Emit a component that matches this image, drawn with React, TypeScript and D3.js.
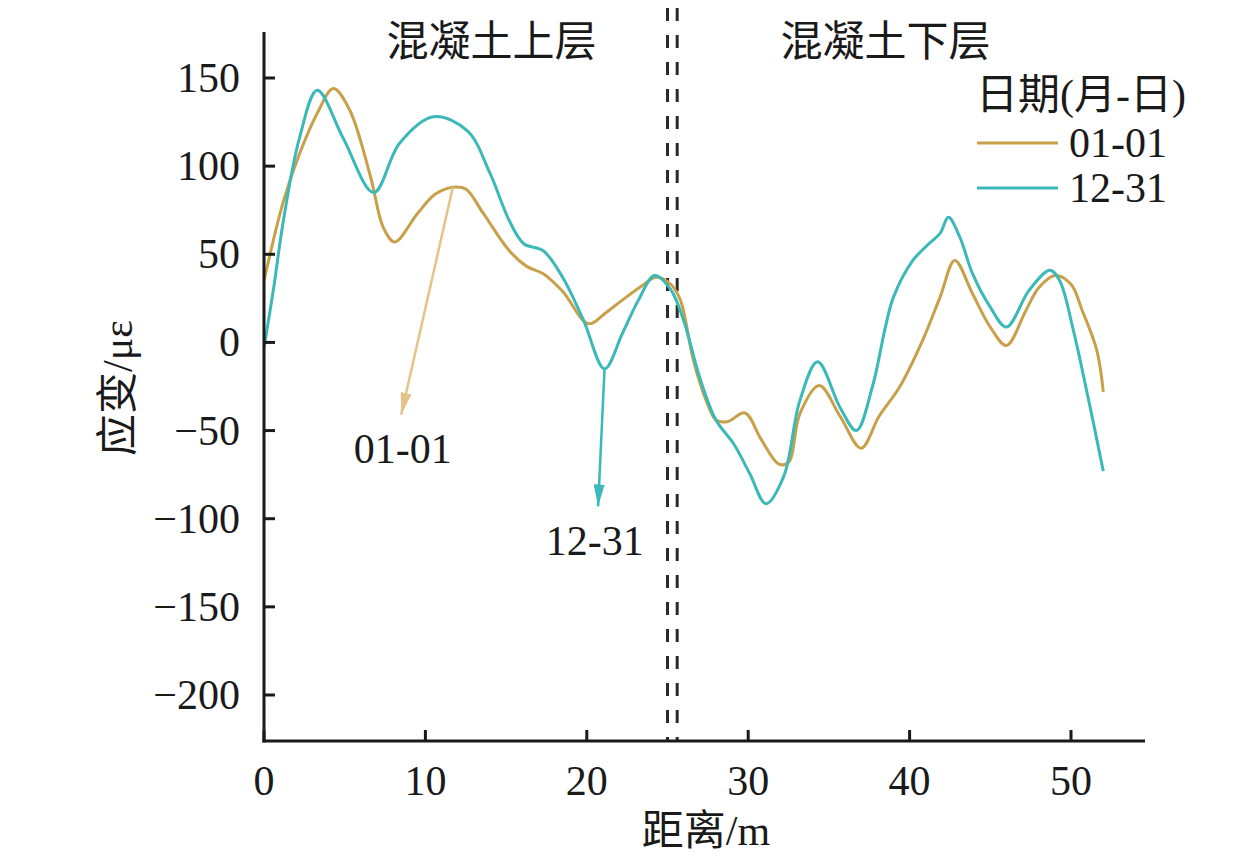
import { useEffect, useRef } from "react";
import * as d3 from "d3";

// 01-01 series (distance m, strain με)
const dist0101 = [0, 1.2, 2.2, 3.3, 4.3, 5.3, 6.6, 7.4, 8.1, 9.5, 10.6, 11.7, 12.5, 13.6, 15.2, 16.3, 17.3, 18.5, 20.1, 21.2, 22.2, 23.4, 24.3, 25.2, 25.8, 26.6, 27.4, 28.0, 28.7, 29.8, 30.8, 31.9, 32.5, 33.2, 34.4, 35.7, 37.0, 38.1, 39.4, 40.8, 41.9, 42.8, 43.9, 45.0, 46.0, 47.2, 48.0, 49.0, 50.0, 50.7, 51.6, 52.0];
const strain0101 = [35, 80, 107, 130, 144, 132, 94, 65, 57, 73, 84, 88, 87, 73, 52, 43, 39, 29, 10.6, 17, 24, 32, 37, 33, 24, -10, -33, -44, -45, -40, -55, -69, -68, -40.5, -24.5, -42, -60, -42, -25, 1, 26, 46.5, 27.6, 8.7, -1.7, 18, 31, 38, 33, 18, -4.5, -28];

// 12-31 series
const dist1231 = [0, 0.6, 1.2, 2.2, 3.3, 4.9, 6.8, 8.4, 10.5, 12.6, 14.0, 15.2, 16.1, 17.3, 18.5, 19.8, 21.1, 22.2, 23.2, 24.2, 25.2, 26.0, 27.0, 28.0, 29.1, 30.1, 31.1, 32.2, 33.2, 34.3, 35.7, 36.7, 37.7, 38.5, 39.0, 40.2, 41.2, 41.9, 42.4, 43.1, 43.9, 45.0, 46.0, 47.4, 48.7, 49.3, 50.1, 51.1, 52.0];
const strain1231 = [-3, 31, 69, 116, 143, 116, 85, 113, 128, 120, 96, 69, 56, 52, 37, 12.5, -15, 5, 24, 38, 30, 12.5, -20, -44, -57.5, -74.5, -91.5, -76, -33, -11, -37, -50, -25, 8.7, 25.7, 46.5, 56, 62, 71, 60, 39, 20, 8.7, 29.5, 41, 35, 8.7, -33, -73];

const xTicks = [0, 10, 20, 30, 40, 50];
const yTicks = [150, 100, 50, 0, -50, -100, -150, -200];
const dividers = [25.0, 25.6];
const sectionTitles = ["混凝土上层", "混凝土下层"];
const sectionCenters = [14.1, 38.5];
const seriesNames = ["01-01", "12-31"];
const colors = ["#c9a04a", "#3bb9b8"];
const arrowColors = ["#e6c287", "#3bb9b8"];
// annotation: from (x,y) on curve to arrow tip, label position
const annoFrom = [[11.7, 88], [21.1, -15]];
const annoTo = [[8.5, -41], [20.7, -93]];
const annoLabel = [[8.6, -63], [20.5, -115]];

const FONT = "'Liberation Serif', 'Times New Roman', 'Noto Sans CJK SC', serif";

export default function App() {
  const svgRef = useRef<SVGSVGElement>(null);

  useEffect(() => {
    if (!svgRef.current) return;
    const svg = d3.select(svgRef.current);
    svg.selectAll("*").remove();

    const x = d3.scaleLinear().domain([0, 50]).range([264, 1071]);
    const y = d3.scaleLinear().domain([150, -200]).range([78, 695]);
    const xMax = x.invert(1145);
    const yTop = y.invert(32);
    const yBot = y.invert(741);

    const defs = svg.append("defs");
    arrowColors.forEach((c, i) => {
      defs
        .append("marker")
        .attr("id", `arr${i}`)
        .attr("viewBox", "0 0 20 10")
        .attr("refX", 20)
        .attr("refY", 5)
        .attr("markerWidth", 22)
        .attr("markerHeight", 11)
        .attr("markerUnits", "userSpaceOnUse")
        .attr("orient", "auto")
        .append("path")
        .attr("d", "M0,0 L20,5 L0,10 Z")
        .attr("fill", c);
    });

    // divider dashed lines
    dividers.forEach((d) => {
      svg
        .append("line")
        .attr("x1", x(d))
        .attr("x2", x(d))
        .attr("y1", 8)
        .attr("y2", y(yBot))
        .attr("stroke", "#2a2a2a")
        .attr("stroke-width", 3)
        .attr("stroke-dasharray", "13,14");
    });

    // curves
    const series = [
      dist0101.map((d, i) => [d, strain0101[i]] as [number, number]),
      dist1231.map((d, i) => [d, strain1231[i]] as [number, number]),
    ];
    const line = d3
      .line<[number, number]>()
      .x((d) => x(d[0]))
      .y((d) => y(d[1]))
      .curve(d3.curveCatmullRom.alpha(0.5));
    series.forEach((s, i) => {
      svg
        .append("path")
        .datum(s)
        .attr("fill", "none")
        .attr("stroke", colors[i])
        .attr("stroke-width", 3)
        .attr("d", line);
    });

    // annotations
    annoFrom.forEach((f, i) => {
      svg
        .append("line")
        .attr("x1", x(f[0]))
        .attr("y1", y(f[1]))
        .attr("x2", x(annoTo[i][0]))
        .attr("y2", y(annoTo[i][1]))
        .attr("stroke", arrowColors[i])
        .attr("stroke-width", 2.5)
        .attr("marker-end", `url(#arr${i})`);
      svg
        .append("text")
        .attr("x", x(annoLabel[i][0]))
        .attr("y", y(annoLabel[i][1]))
        .attr("text-anchor", "middle")
        .attr("dominant-baseline", "middle")
        .attr("font-size", 42)
        .attr("fill", "#1a1a1a")
        .text(seriesNames[i]);
    });

    // axes
    const ax = svg.append("g").attr("stroke", "#1a1a1a").attr("stroke-width", 3);
    ax.append("line").attr("x1", x(0)).attr("x2", x(0)).attr("y1", y(yTop)).attr("y2", y(yBot) + 1.5);
    ax.append("line").attr("x1", x(0) - 1.5).attr("x2", x(xMax)).attr("y1", y(yBot)).attr("y2", y(yBot));
    yTicks.forEach((t) => {
      ax.append("line").attr("x1", x(0)).attr("x2", x(0) + 11).attr("y1", y(t)).attr("y2", y(t));
    });
    xTicks.forEach((t) => {
      ax.append("line").attr("x1", x(t)).attr("x2", x(t)).attr("y1", y(yBot)).attr("y2", y(yBot) - 11);
    });

    const txt = svg.append("g").attr("fill", "#1a1a1a").attr("font-size", 42);
    yTicks.forEach((t) => {
      txt
        .append("text")
        .attr("x", 240)
        .attr("y", y(t))
        .attr("text-anchor", "end")
        .attr("dominant-baseline", "central")
        .text(t < 0 ? `\u2212${Math.abs(t)}` : `${t}`);
    });
    xTicks.forEach((t) => {
      txt
        .append("text")
        .attr("x", x(t))
        .attr("y", 781)
        .attr("text-anchor", "middle")
        .attr("dominant-baseline", "central")
        .text(`${t}`);
    });

    txt
      .append("text")
      .attr("x", 706)
      .attr("y", 831)
      .attr("text-anchor", "middle")
      .attr("dominant-baseline", "central")
      .text("距离/m");
    txt
      .append("text")
      .attr("transform", "translate(118,388) rotate(-90)")
      .attr("text-anchor", "middle")
      .attr("dominant-baseline", "central")
      .text("应变/με");

    sectionTitles.forEach((s, i) => {
      txt
        .append("text")
        .attr("x", x(sectionCenters[i]))
        .attr("y", 42)
        .attr("text-anchor", "middle")
        .attr("dominant-baseline", "central")
        .text(s);
    });

    // legend
    const lg = svg.append("g");
    lg.append("text")
      .attr("x", 976)
      .attr("y", 95)
      .attr("font-size", 42)
      .attr("fill", "#1a1a1a")
      .attr("dominant-baseline", "central")
      .text("日期(月-日)");
    seriesNames.forEach((n, i) => {
      const yy = 143 + i * 45;
      lg.append("line")
        .attr("x1", 977)
        .attr("x2", 1058)
        .attr("y1", yy)
        .attr("y2", yy)
        .attr("stroke", colors[i])
        .attr("stroke-width", 3);
      lg.append("text")
        .attr("x", 1069)
        .attr("y", yy)
        .attr("font-size", 42)
        .attr("fill", "#1a1a1a")
        .attr("dominant-baseline", "central")
        .text(n);
    });
  }, []);

  return (
    <svg
      ref={svgRef}
      width={1260}
      height={865}
      style={{ position: "absolute", left: 0, top: 0, background: "#fff", fontFamily: FONT }}
    />
  );
}
